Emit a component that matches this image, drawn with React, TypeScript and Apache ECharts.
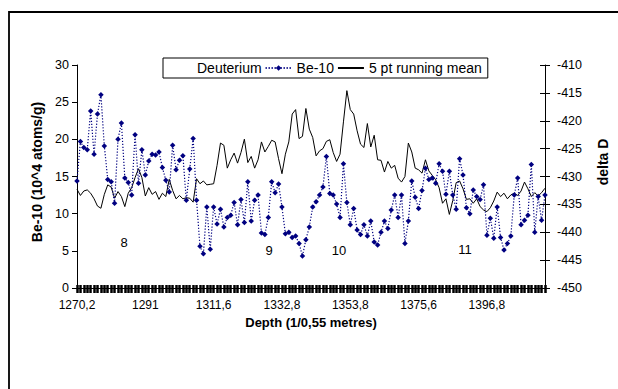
import React, { useEffect, useRef } from 'react';
import * as echarts from 'echarts';

const depthTickLabels = ['1270,2', '1291', '1311,6', '1332,8', '1353,8', '1375,6', '1396,8'];
const LABEL_STEP = 20;

const be10 = [
  14.4, 19.7, 18.9, 18.6, 23.8, 18.0, 23.4, 26.0, 19.1, 14.6,
  14.3, 11.4, 20.0, 22.2, 14.8, 14.2, 12.5, 20.6, 14.1, 18.6,
  15.2, 17.1, 18.0, 17.9, 18.3, 16.2, 14.5, 12.9, 19.2, 15.9,
  17.2, 17.8, 11.8, 16.0, 20.1, 11.8, 5.6, 4.6, 10.9, 5.2,
  10.9, 8.6, 10.6, 8.2, 9.5, 9.8, 11.5, 8.5, 11.9, 8.8,
  14.3, 9.0, 11.8, 12.5, 7.4, 7.2, 9.5, 14.3, 12.8, 14.0,
  10.9, 7.3, 7.5, 6.8, 7.0, 6.0, 4.3, 6.5, 8.2, 10.9,
  11.6, 12.5, 13.6, 17.7, 12.7, 12.5, 11.3, 9.5, 16.7, 11.5,
  8.5, 10.7, 7.8, 7.2, 8.5, 7.0, 9.0, 6.2, 5.8, 7.5,
  9.0, 8.0, 10.5, 12.5, 9.5, 12.5, 6.0, 9.0, 14.4, 12.2,
  10.7, 13.1, 16.1, 14.6, 14.8, 14.1, 16.7, 15.7, 12.6, 15.7,
  12.5, 10.6, 17.4, 15.2, 10.8, 10.0, 13.2, 12.3, 11.9, 13.9,
  7.1, 9.4, 6.7, 10.9, 6.8, 5.1, 6.0, 7.0, 12.5, 14.8,
  8.5, 9.1, 9.8, 16.6, 7.5, 12.3, 9.1, 12.5,
];

const runningMean = [
  -432.3, -433.4, -432.6, -432.4, -433.0, -434.0, -435.3, -435.7, -433.2, -431.5,
  -431.9, -433.9, -432.7, -433.6, -435.4, -433.0, -432.0, -430.2, -428.6, -430.2,
  -433.5, -432.0, -433.2, -432.7, -434.1, -433.0, -433.6, -430.5, -432.5, -434.0,
  -433.4, -434.0, -433.8, -433.9, -434.6, -430.4, -431.3, -430.8, -431.5, -431.4,
  -431.3, -428.0, -424.0, -424.4, -428.5, -427.0, -425.8, -427.6, -425.7, -423.3,
  -427.5, -426.4, -428.5, -427.0, -423.8, -425.6, -424.6, -423.5, -423.8, -426.8,
  -429.5, -426.0, -423.8, -418.8, -418.0, -423.2, -422.8, -417.8, -421.5, -423.0,
  -426.3, -425.4, -425.0, -423.7, -423.4, -425.7, -427.3, -426.0, -420.2, -414.6,
  -418.0, -418.8, -421.8, -424.2, -424.8, -420.5, -424.7, -422.6, -427.0, -427.1,
  -429.2, -427.3, -428.5, -428.0, -430.3, -431.0, -430.0, -424.0, -425.6, -428.5,
  -428.8, -429.4, -427.0, -429.0, -429.8, -430.6, -432.0, -434.8, -434.0, -436.8,
  -434.3, -431.1, -430.8, -432.2, -434.1, -434.0, -434.8, -434.0, -435.4, -436.0,
  -436.3, -435.6, -434.4, -432.8, -433.6, -433.0, -434.0, -433.3, -433.0, -433.4,
  -432.6, -431.0, -432.2, -433.6, -432.9, -433.5, -432.9, -432.1,
];

const stageLabels = ['8', '9', '10', '11'];

const FONT = "'Liberation Sans', Arial, sans-serif";

export default function App() {
  const ref = useRef<HTMLDivElement>(null);

  useEffect(() => {
    document.body.style.margin = '0';
    if (!ref.current) return;
    const chart = echarts.init(ref.current, undefined, { renderer: 'svg' });

    const categories = be10.map((_, i) =>
      i % LABEL_STEP === 0 && depthTickLabels[i / LABEL_STEP] !== undefined
        ? depthTickLabels[i / LABEL_STEP]
        : `_${i}`
    );
    const labelFormatter = (v: string) => (depthTickLabels.includes(v) ? v : '');

    const stagePos = [
      [124, 242],
      [269, 250],
      [339, 250],
      [465, 249],
    ];

    chart.setOption({
      animation: false,
      backgroundColor: '#fff',
      textStyle: { fontFamily: FONT },
      grid: { left: 77, right: 68, top: 65, bottom: 101 },
      legend: {
        left: 163,
        top: 58,
        orient: 'horizontal',
        backgroundColor: '#fff',
        borderColor: '#000',
        borderWidth: 1,
        borderRadius: 0,
        padding: [3, 6, 3, 2],
        itemWidth: 26,
        itemHeight: 7,
        itemGap: 3,
        textStyle: { fontSize: 14, color: '#000', fontFamily: FONT },
        data: [
          { name: 'Deuterium', itemStyle: { opacity: 0 }, lineStyle: { opacity: 0 } },
          { name: 'Be-10' },
          { name: '5 pt running mean', itemStyle: { opacity: 0 } },
        ],
      },
      xAxis: [
        {
          type: 'category',
          data: categories,
          boundaryGap: false,
          position: 'bottom',
          name: 'Depth (1/0,55 metres)',
          nameLocation: 'middle',
          nameGap: 18,
          nameTextStyle: { fontWeight: 'bold', fontSize: 13, color: '#000', fontFamily: FONT },
          axisLine: { show: true, lineStyle: { color: '#000', width: 1 } },
          axisTick: { show: true, interval: 0, length: 5, lineStyle: { color: '#000', width: 2.5 } },
          axisLabel: {
            interval: 0,
            formatter: labelFormatter,
            fontSize: 12,
            color: '#000',
            margin: 11,
            fontFamily: FONT,
          },
          splitLine: { show: false },
        },
        {
          type: 'category',
          data: categories,
          boundaryGap: false,
          position: 'bottom',
          axisLine: { show: false },
          axisTick: { show: true, inside: true, interval: 0, length: 3, lineStyle: { color: '#000', width: 2.5 } },
          axisLabel: { show: false },
          splitLine: { show: false },
        },
      ],
      yAxis: [
        {
          type: 'value',
          position: 'left',
          min: 0,
          max: 30,
          interval: 5,
          name: 'Be-10 (10^4 atoms/g)',
          nameLocation: 'middle',
          nameGap: 22,
          nameRotate: 90,
          nameTextStyle: {
            fontWeight: 'bold',
            fontSize: 14,
            color: '#000',
            fontFamily: FONT,
            padding: [0, 0, 0, 9],
          },
          axisLine: { show: true, lineStyle: { color: '#000', width: 1 } },
          axisTick: { show: true, length: 5, lineStyle: { color: '#000' } },
          axisLabel: { fontSize: 12.5, color: '#000', margin: 8, fontFamily: FONT },
          splitLine: { show: false },
        },
        {
          type: 'value',
          position: 'right',
          min: -450,
          max: -410,
          interval: 5,
          name: 'delta D',
          nameLocation: 'middle',
          nameGap: 51,
          nameRotate: 90,
          nameTextStyle: {
            fontWeight: 'bold',
            fontSize: 14,
            color: '#000',
            fontFamily: FONT,
            padding: [0, 0, 0, 29],
          },
          axisLine: { show: true, lineStyle: { color: '#000', width: 1 } },
          axisTick: { show: true, length: 5, lineStyle: { color: '#000' } },
          axisLabel: { fontSize: 12.5, color: '#000', margin: 12, fontFamily: FONT },
          splitLine: { show: false },
        },
        {
          type: 'value',
          position: 'right',
          min: -450,
          max: -410,
          interval: 5,
          axisLine: { show: false },
          axisTick: { show: true, inside: true, length: 5, lineStyle: { color: '#000' } },
          axisLabel: { show: false },
          splitLine: { show: false },
        },
      ],
      series: [
        {
          name: 'Deuterium',
          type: 'line',
          xAxisIndex: 0,
          yAxisIndex: 1,
          data: [],
          symbol: 'none',
          lineStyle: { opacity: 0 },
          itemStyle: { opacity: 0 },
        },
        {
          name: '5 pt running mean',
          type: 'line',
          xAxisIndex: 0,
          yAxisIndex: 1,
          data: runningMean,
          symbol: 'none',
          color: '#000',
          lineStyle: { color: '#000', width: 1 },
          z: 2,
        },
        {
          name: 'Be-10',
          type: 'line',
          xAxisIndex: 0,
          yAxisIndex: 0,
          data: be10,
          color: '#000080',
          symbol: 'diamond',
          symbolSize: 5.5,
          showAllSymbol: true,
          itemStyle: { color: '#000080', borderWidth: 0 },
          lineStyle: { color: '#000080', width: 1.2, type: [1.2, 1.8] },
          z: 3,
        },
      ],
      graphic: [
        {
          type: 'rect',
          silent: true,
          z: 100,
          shape: { x: 9, y: 12, width: 700, height: 500 },
          style: { fill: 'none', stroke: '#000', lineWidth: 1.8 },
        },
        ...stageLabels.map((t, i) => ({
          type: 'text',
          silent: true,
          z: 100,
          x: stagePos[i][0],
          y: stagePos[i][1],
          style: {
            text: t,
            fontSize: 13,
            fontFamily: FONT,
            fill: '#000',
            align: 'center',
            verticalAlign: 'middle',
          },
        })),
      ],
    });

    return () => {
      chart.dispose();
    };
  }, []);

  return <div ref={ref} style={{ width: 618, height: 389 }} />;
}
